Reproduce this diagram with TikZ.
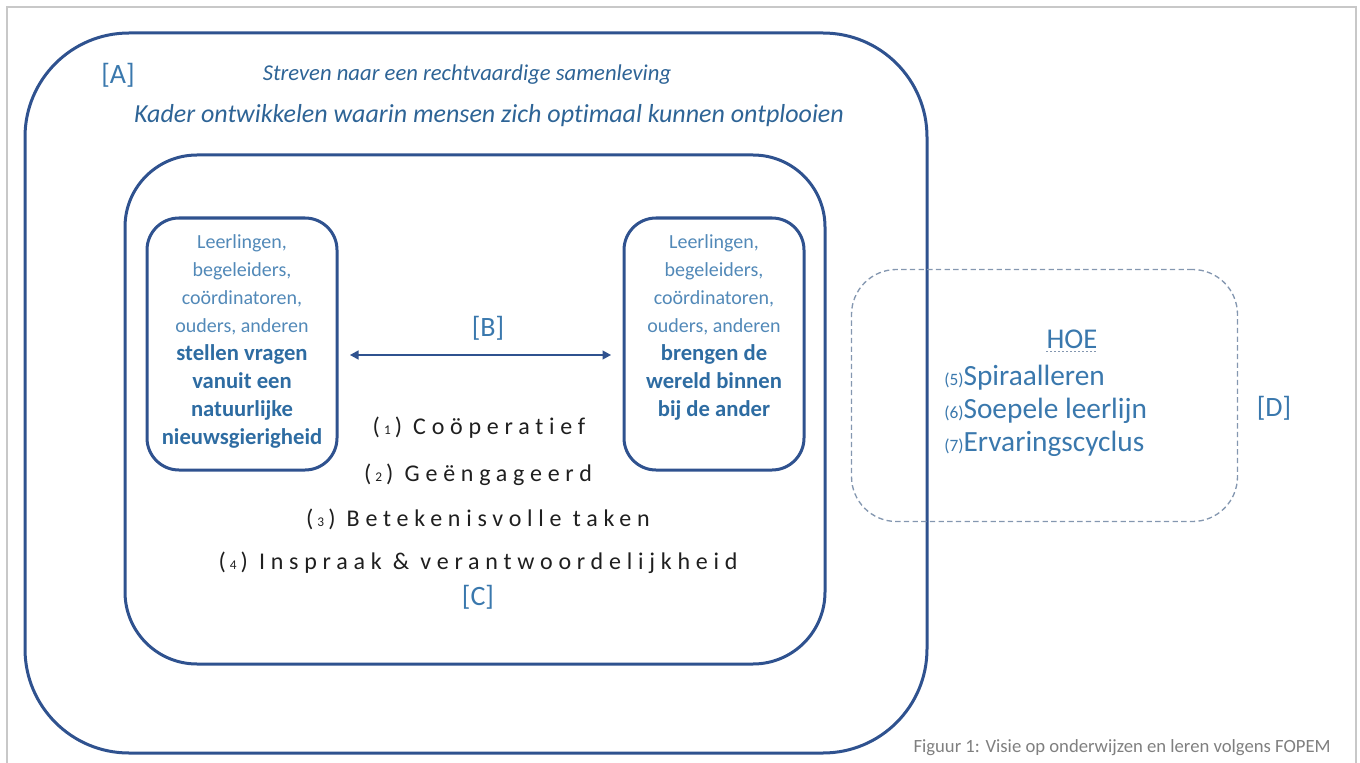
\documentclass[tikz,border=0pt]{standalone}
\usepackage{fontspec}
\setmainfont{Carlito}[Ligatures=NoCommon]
\usetikzlibrary{arrows.meta}
\definecolor{lineblue}{HTML}{2F528F}
\definecolor{txtblue}{HTML}{3A78AD}
\definecolor{topblue}{HTML}{2E6496}
\definecolor{softblue}{HTML}{5289B8}
\definecolor{boldblue}{HTML}{2E6CA2}
\definecolor{capgray}{HTML}{7F7F7F}
\definecolor{dashgray}{HTML}{8497B0}
\definecolor{framegray}{HTML}{C8C8C8}
\begin{document}
\begin{tikzpicture}[x=0.75pt,y=-0.75pt,
  box/.style={draw=lineblue, line width=2.25pt, rounded corners=#1, inner sep=0pt},
  dbox/.style={draw=dashgray, line width=1pt, dash pattern=on 4pt off 2.5pt, rounded corners=#1, inner sep=0pt},
  tag/.style={text=txtblue, font=\fontsize{21}{24}\selectfont, inner sep=0pt},
  toptext/.style={text=topblue, font=\fontsize{17}{20}\selectfont\itshape, inner sep=0pt},
  boxtext/.style={align=center, inner sep=0pt, font=\fontsize{15}{21}\selectfont},
  spaced/.style={inner sep=0pt, text=black!88, font=\fontsize{18}{20}\selectfont\addfontfeatures{LetterSpace=24}},
  hoe/.style={inner sep=0pt, text=txtblue, align=left, font=\fontsize{22}{24.75}\selectfont},
  arr/.style={{Triangle[length=6.5pt,width=6.5pt]}-{Triangle[length=6.5pt,width=6.5pt]}, draw=lineblue, line width=1.9pt}
]
\useasboundingbox (0,0) rectangle (1360,763);
% page frame
\draw[framegray, line width=1.5pt] (7,763) -- (7,7) -- (1356,7) -- (1356,763);

% boxes
\node[box=78pt, minimum width=676.5pt, minimum height=540pt] (A) at (476,393) {};
\node[box=54pt, minimum width=525pt, minimum height=381.75pt] (C) at (475,409.5) {};
\node[box=24pt, minimum width=142.5pt, minimum height=189pt] (L) at (242,344) {};
\node[box=24pt, minimum width=135pt, minimum height=189pt] (R) at (714,344) {};
\node[dbox=33.75pt, minimum width=289.5pt, minimum height=189pt] (D) at (1044.5,395.5) {};

% A texts
\node[tag] (tA) at (118,75) {[A]};
\node[toptext] (t1) at (467,75) {Streven naar een rechtvaardige samenleving};
\node[toptext, font=\fontsize{19.5}{22}\selectfont\itshape] (t2) at (489,116) {Kader ontwikkelen waarin mensen zich optimaal kunnen ontplooien};

% small box texts
\newcommand{\bl}[1]{{\color{boldblue}\fontsize{17}{21}\selectfont\bfseries #1}}
\newcommand{\rl}[1]{{\color{softblue}#1}}
\node[boxtext, anchor=north] (Lt) at (242,234) {\rl{Leerlingen,}\\\rl{begeleiders,}\\\rl{coördinatoren,}\\\rl{ouders, anderen}\\\bl{stellen vragen}\\\bl{vanuit een}\\\bl{natuurlijke}\\\bl{nieuwsgierigheid}};
\node[boxtext, anchor=north] (Rt) at (714,234) {\rl{Leerlingen,}\\\rl{begeleiders,}\\\rl{coördinatoren,}\\\rl{ouders, anderen}\\\bl{brengen de}\\\bl{wereld binnen}\\\bl{bij de ander}};

% B
\node[tag] (tB) at (488,328) {[B]};
\draw[arr] ([yshift=-8.25pt,xshift=8.5pt]L.east) -- ([yshift=-8.25pt,xshift=-8.5pt]R.west);

% C list
\newcommand{\sn}[1]{(\,{\fontsize{10}{10}\selectfont #1}\,)}
\node[spaced] (c1) at (479,428) {\sn{1} Coöperatief};
\node[spaced] (c2) at (478,475) {\sn{2} Geëngageerd};
\node[spaced] (c3) at (478,519) {\sn{3} Betekenisvolle taken};
\node[spaced] (c4) at (478,563) {\sn{4} Inspraak \& verantwoordelijkheid};
\node[tag] (tC) at (478,597) {[C]};

% D
\node[hoe, font=\fontsize{21.5}{24}\selectfont] (hoe) at (1072,339) {HOE};
\draw[dashgray, line width=1pt, dotted] ([yshift=-2pt]hoe.south west) -- ([yshift=-2pt]hoe.south east);
\newcommand{\dn}[1]{{\fontsize{13}{13}\selectfont(#1)}}
\node[hoe, anchor=north west] (dl) at (944,365) {\dn{5}Spiraalleren\\\dn{6}Soepele leerlijn\\\dn{7}Ervaringscyclus};
\node[tag] (tD) at (1274,408) {[D]};

% caption
\node[inner sep=0pt, anchor=east, text=capgray, font=\fontsize{14}{16}\selectfont] (cap) at (1331,748) {Figuur 1: Visie op onderwijzen en leren volgens FOPEM};
\end{tikzpicture}
\end{document}
